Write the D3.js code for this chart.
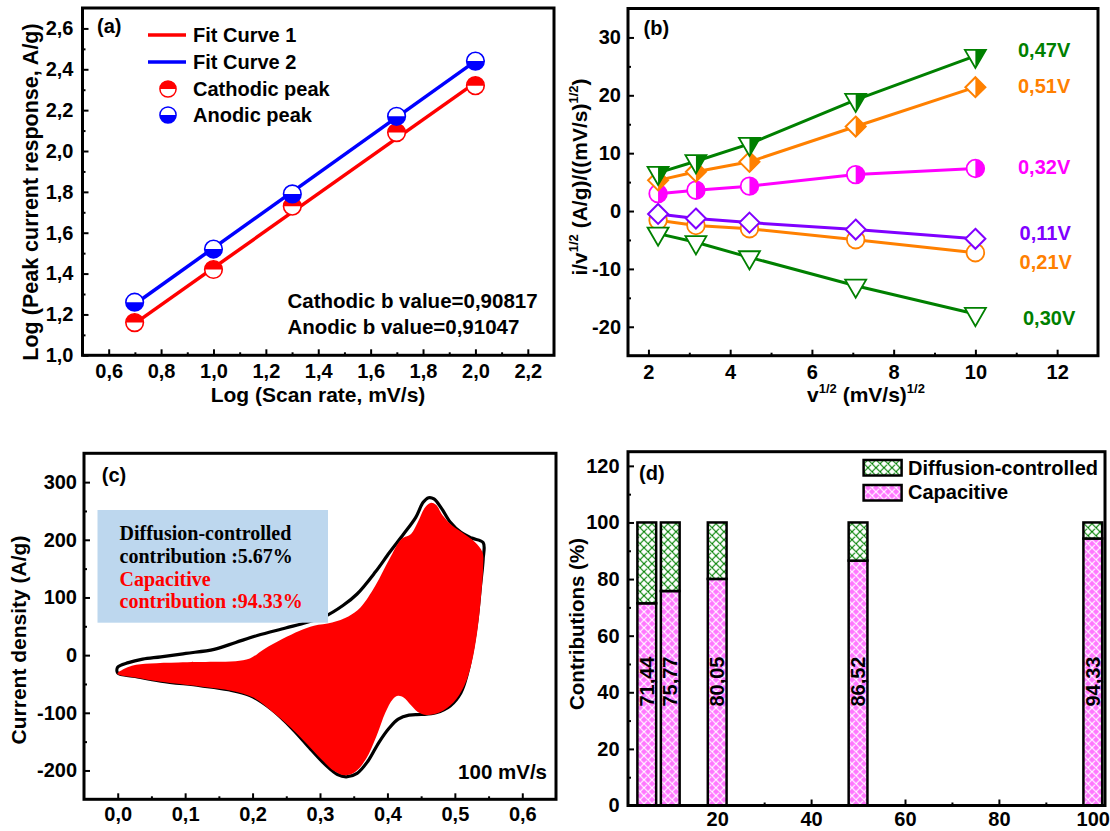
<!DOCTYPE html>
<html><head><meta charset="utf-8">
<script src="https://cdn.jsdelivr.net/npm/d3@7"></script>
<style>
body{margin:0;background:#fff;}
svg{display:block;}
text{font-family:"Liberation Sans",Arial,sans-serif;font-weight:bold;fill:#000;}
text.serif{font-family:"Liberation Serif","Times New Roman",serif;}
</style></head><body>
<svg id="chart" width="1110" height="831"></svg>
<script>
// ---------- Panel (a) data ----------
const aLogRate = [0.699, 1.0, 1.301, 1.699, 2.0];
const aCathodic = [1.16, 1.42, 1.73, 2.09, 2.32];
const aAnodic = [1.26, 1.52, 1.79, 2.17, 2.44];
const aFit1X = [0.699, 2.0], aFit1Y = [1.155, 2.335];
const aFit2X = [0.699, 2.0], aFit2Y = [1.25, 2.44];
const aXTicks = [0.6, 0.8, 1.0, 1.2, 1.4, 1.6, 1.8, 2.0, 2.2];
const aYTicks = [1.0, 1.2, 1.4, 1.6, 1.8, 2.0, 2.2, 2.4, 2.6];
const aLegend = ["Fit Curve 1", "Fit Curve 2", "Cathodic peak", "Anodic peak"];
const aNotes = ["Cathodic b value=0,90817", "Anodic b value=0,91047"];

// ---------- Panel (b) data ----------
const bSqrtRate = [2.236, 3.162, 4.472, 7.071, 10];
const bNames = ["0,47V", "0,51V", "0,32V", "0,11V", "0,21V", "0,30V"];
const bV047 = [6.6, 8.6, 11.6, 19.2, 26.8];
const bV051 = [5.3, 6.8, 8.5, 14.6, 21.4];
const bV032 = [3.0, 3.6, 4.3, 6.3, 7.35];
const bV011 = [-0.5, -1.3, -2.0, -3.2, -4.8];
const bV021 = [-1.6, -2.5, -3.05, -4.95, -7.2];
const bV030 = [-3.9, -5.4, -8.0, -12.9, -17.8];
const bXTicks = [2, 4, 6, 8, 10, 12];
const bYTicks = [-20, -10, 0, 10, 20, 30];

// ---------- Panel (c) data ----------
const cvOuterE = [0.000,0.016,0.037,0.064,0.101,0.143,0.175,0.207,0.249,0.281,0.307,0.334,0.355,0.382,0.403,0.424,0.442,0.453,0.461,0.469,0.480,0.493,0.509,0.525,0.542,0.542,0.538,0.533,0.527,0.519,0.509,0.493,0.472,0.450,0.432,0.416,0.403,0.387,0.371,0.355,0.339,0.326,0.307,0.286,0.260,0.228,0.196,0.164,0.122,0.064,0.026,0.000];
const cvOuterJ = [-21,-13,-7,-3,3,10,22,34,47,57,67,86,106,144,178,210,239,265,273,271,255,231,213,203,195,167,120,63,16,-30,-65,-88,-100,-103,-104,-111,-126,-152,-184,-205,-211,-207,-189,-163,-129,-94,-70,-60,-53,-45,-37,-31];
const cvCapE = [0,0.021,0.048,0.090,0.143,0.175,0.196,0.217,0.244,0.270,0.291,0.318,0.342,0.360,0.382,0.403,0.421,0.435,0.445,0.456,0.464,0.472,0.482,0.496,0.514,0.530,0.541,0.542,0.538,0.533,0.525,0.514,0.498,0.477,0.458,0.445,0.435,0.424,0.416,0.408,0.397,0.384,0.368,0.352,0.337,0.321,0.302,0.281,0.254,0.228,0.201,0.170,0.122,0.064,0.026,0];
const cvCapJ = [-31,-18.5,-14.5,-12.7,-11.6,-10.4,-5.8,10.4,27.8,42.3,51,56.7,67.2,82.8,120.4,166.8,201.5,210.2,230.5,256.5,264,260.6,242,224.7,210.2,195.7,178.3,155.2,91.5,39.4,-12.7,-53.3,-82.2,-99.6,-103.6,-98.4,-86.9,-73.5,-70.6,-76.4,-99.6,-140,-180.7,-202.7,-208.5,-201,-180.7,-154.6,-122.8,-96.7,-73.5,-62,-54.4,-46.3,-38.8,-33];
const cXTicks = [0.0, 0.1, 0.2, 0.3, 0.4, 0.5, 0.6];
const cYTicks = [-200, -100, 0, 100, 200, 300];
const cBoxLines = ["Diffusion-controlled", "contribution :5.67%", "Capacitive", "contribution :94.33%"];
const cRateLabel = "100 mV/s";

// ---------- Panel (d) data ----------
const dRate = [5, 10, 20, 50, 100];
const dCapacitive = [71.44, 75.77, 80.05, 86.52, 94.33];
const dDiffusion = [28.56, 24.23, 19.95, 13.48, 5.67];
const dLabels = ["71,44", "75,77", "80,05", "86,52", "94,33"];
const dXTicks = [20, 40, 60, 80, 100];
const dYTicks = [0, 20, 40, 60, 80, 100, 120];
const dLegend = ["Diffusion-controlled", "Capacitive"];

// ---------- helpers ----------
const svg = d3.select("#chart");
const comma = d => d3.format(".1f")(d).replace(".", ",");
const hyph = d => String(d);

function panel(L, T, R, B, xDom, yDom) {
  const g = svg.append("g").attr("transform", `translate(${L},${T})`);
  const w = R - L, h = B - T;
  const x = d3.scaleLinear().domain(xDom).range([0, w]);
  const y = d3.scaleLinear().domain(yDom).range([h, 0]);
  return {g, w, h, x, y};
}
function axes(p, xMaj, xMin, yMaj, yMin, xFmt, yFmt, xPad, yPad) {
  const {g, w, h, x, y} = p;
  const style = sel => {
    sel.select(".domain").remove();
    sel.selectAll("line").attr("stroke", "#000").attr("stroke-width", 2);
    sel.selectAll("text").attr("font-size", 20).attr("fill", "#000");
  };
  g.append("g").attr("transform", `translate(0,${h})`)
    .call(d3.axisBottom(x).tickValues(xMin).tickFormat("").tickSizeInner(-3).tickSizeOuter(0)).call(style);
  g.append("g").attr("transform", `translate(0,${h})`)
    .call(d3.axisBottom(x).tickValues(xMaj).tickFormat(xFmt).tickSizeInner(-6).tickSizeOuter(0).tickPadding(xPad)).call(style);
  g.append("g")
    .call(d3.axisLeft(y).tickValues(yMin).tickFormat("").tickSizeInner(-3).tickSizeOuter(0)).call(style);
  g.append("g")
    .call(d3.axisLeft(y).tickValues(yMaj).tickFormat(yFmt).tickSizeInner(-6).tickSizeOuter(0).tickPadding(yPad)).call(style);
}
function frame(p) {
  p.g.append("rect").attr("width", p.w).attr("height", p.h).attr("fill", "none").attr("stroke", "#000").attr("stroke-width", 3);
}
function txt(g, x, y, s, opt = {}) {
  const t = g.append("text").attr("x", x).attr("y", y).attr("font-size", opt.size || 20).text(s);
  if (opt.anchor) t.attr("text-anchor", opt.anchor);
  if (opt.fill) t.style("fill", opt.fill);
  return t;
}
const halfTop = r => `M${-r},0A${r},${r} 0 0 1 ${r},0Z`;
const halfBottom = r => `M${-r},0A${r},${r} 0 0 0 ${r},0Z`;
const halfRight = r => `M0,${-r}A${r},${r} 0 0 1 0,${r}Z`;
const triDown = s => { const hh = s * 0.866; return `M${-s/2},${-hh/3}L${s/2},${-hh/3}L0,${2*hh/3}Z`; };
const triDownRight = s => { const hh = s * 0.866; return `M0,${-hh/3}L${s/2},${-hh/3}L0,${2*hh/3}Z`; };
const diamond = d => `M0,${-d}L${d},0L0,${d}L${-d},0Z`;
const diamondRight = d => `M0,${-d}L${d},0L0,${d}Z`;

// ================= Panel (a) =================
{
  const p = panel(82.5, 8, 554, 355.3, [0.5, 2.3], [1.0, 2.7]);
  const {g, x, y} = p;
  axes(p, aXTicks, d3.range(0.7, 2.25, 0.2), aYTicks, d3.range(1.1, 2.7, 0.2), comma, comma, 9, 9);
  const line = d3.line().x(d => x(d[0])).y(d => y(d[1]));
  g.append("path").attr("d", line(d3.zip(aFit1X, aFit1Y))).attr("stroke", "#ff0000").attr("stroke-width", 3.5).attr("fill", "none");
  g.append("path").attr("d", line(d3.zip(aFit2X, aFit2Y))).attr("stroke", "#0000ff").attr("stroke-width", 3.5).attr("fill", "none");
  const r = 8.8;
  const drawMark = (gg, col, top) => {
    gg.append("circle").attr("r", r).attr("fill", "#fff").attr("stroke", col).attr("stroke-width", 1.6);
    gg.append("path").attr("d", top ? halfTop(r) : halfBottom(r)).attr("fill", col);
  };
  aLogRate.forEach((v, i) => drawMark(g.append("g").attr("transform", `translate(${x(v)},${y(aCathodic[i])})`), "#ff0000", true));
  aLogRate.forEach((v, i) => drawMark(g.append("g").attr("transform", `translate(${x(v)},${y(aAnodic[i])})`), "#0000ff", false));
  // legend
  const rows = [35, 62, 89, 115].map(v => v - 8);
  g.append("line").attr("x1", 148-82.5).attr("x2", 186-82.5).attr("y1", rows[0]).attr("y2", rows[0]).attr("stroke", "#ff0000").attr("stroke-width", 3.5);
  g.append("line").attr("x1", 148-82.5).attr("x2", 186-82.5).attr("y1", rows[1]).attr("y2", rows[1]).attr("stroke", "#0000ff").attr("stroke-width", 3.5);
  drawMark(g.append("g").attr("transform", `translate(${168-82.5},${rows[2]}) scale(0.92)`), "#ff0000", true);
  drawMark(g.append("g").attr("transform", `translate(${168-82.5},${rows[3]}) scale(0.92)`), "#0000ff", false);
  aLegend.forEach((s, i) => txt(g, 193-82.5, rows[i] + 7, s));
  txt(g, 97-82.5, 33-8, "(a)");
  aNotes.forEach((s, i) => txt(g, 287.5-82.5, [307.5, 334][i] - 8, s, {size: 20.5}));
  frame(p);
  svg.append("text").attr("x", 318).attr("y", 402).attr("text-anchor", "middle").attr("font-size", 21).text("Log (Scan rate, mV/s)");
  svg.append("text").attr("transform", "translate(38,192) rotate(-90)").attr("text-anchor", "middle").attr("font-size", 21.5).text("Log (Peak current response, A/g)");
}

// ================= Panel (b) =================
{
  const p = panel(628, 8.5, 1098, 355.7, [1.5, 13], [-25, 35]);
  const {g, x, y} = p;
  axes(p, bXTicks, [3, 5, 7, 9, 11], bYTicks, [-15, -5, 5, 15, 25], d => String(d), hyph, 9, 7);
  const series = [
    {v: bV021, col: "#ff8000", shape: "circle", half: false},
    {v: bV011, col: "#8000ff", shape: "diamond", half: false},
    {v: bV030, col: "#008000", shape: "tri", half: false},
    {v: bV032, col: "#ff00ff", shape: "circle", half: true},
    {v: bV051, col: "#ff8000", shape: "diamond", half: true},
    {v: bV047, col: "#008000", shape: "tri", half: true}
  ];
  const line = d3.line().x((d, i) => x(bSqrtRate[i])).y(d => y(d));
  series.forEach(s => {
    g.append("path").attr("d", line(s.v)).attr("fill", "none").attr("stroke", s.col).attr("stroke-width", 3);
  });
  series.forEach(s => {
    s.v.forEach((val, i) => {
      const m = g.append("g").attr("transform", `translate(${x(bSqrtRate[i])},${y(val)})`);
      if (s.shape === "circle") {
        m.append("circle").attr("r", 8.8).attr("fill", "#fff").attr("stroke", s.col).attr("stroke-width", 1.8);
        if (s.half) m.append("path").attr("d", halfRight(8.8)).attr("fill", s.col);
      } else if (s.shape === "diamond") {
        m.append("path").attr("d", diamond(10)).attr("fill", "#fff").attr("stroke", s.col).attr("stroke-width", 2).attr("stroke-linejoin", "miter");
        if (s.half) m.append("path").attr("d", diamondRight(10)).attr("fill", s.col);
      } else {
        m.append("path").attr("d", triDown(21)).attr("fill", "#fff").attr("stroke", s.col).attr("stroke-width", 1.8);
        if (s.half) m.append("path").attr("d", triDownRight(21)).attr("fill", s.col);
      }
    });
  });
  const labCols = ["#008000", "#ff8000", "#ff00ff", "#8000ff", "#ff8000", "#008000"];
  const labX = [1018, 1018, 1018, 1019.6, 1019.6, 1023];
  const labY = [50, 86, 166.7, 233.3, 261.7, 318.3];
  bNames.forEach((s, i) => txt(svg, labX[i], labY[i] + 7, s, {fill: labCols[i]}));
  txt(svg, 643.6, 35, "(b)");
  frame(p);
  const xt = svg.append("text").attr("x", 866).attr("y", 402).attr("text-anchor", "middle").attr("font-size", 21);
  xt.append("tspan").text("v");
  xt.append("tspan").attr("dy", -9).attr("font-size", 13).text("1/2");
  xt.append("tspan").attr("dy", 9).text(" (mV/s)");
  xt.append("tspan").attr("dy", -9).attr("font-size", 13).text("1/2");
  const yt = svg.append("text").attr("transform", "translate(587,177) rotate(-90)").attr("text-anchor", "middle").attr("font-size", 21);
  yt.append("tspan").text("i/v");
  yt.append("tspan").attr("dy", -9).attr("font-size", 13).text("1/2");
  yt.append("tspan").attr("dy", 9).text(" (A/g)/((mV/s)");
  yt.append("tspan").attr("dy", -9).attr("font-size", 13).text("1/2");
  yt.append("tspan").attr("dy", 9).text(")");
}

// ================= Panel (c) =================
{
  const p = panel(84, 453.3, 556, 799.3, [-0.05, 0.65], [-250, 350]);
  const {g, x, y} = p;
  axes(p, cXTicks, d3.range(0.05, 0.6, 0.1), cYTicks, [-150, -50, 50, 150, 250], comma, hyph, 8, 7);
  const area = d3.line().x(d => x(d[0])).y(d => y(d[1])).curve(d3.curveCatmullRomClosed.alpha(0.5));
  g.append("path").attr("d", area(d3.zip(cvOuterE, cvOuterJ))).attr("fill", "none").attr("stroke", "#000").attr("stroke-width", 3.2);
  g.append("path").attr("d", area(d3.zip(cvCapE, cvCapJ))).attr("fill", "#ff0000").attr("stroke", "none");
  g.append("rect").attr("x", 97.5-84).attr("y", 510-453.3).attr("width", 328-97.5).attr("height", 622.7-510).attr("fill", "#bdd7ee");
  const cols = ["#000", "#000", "#ff0000", "#ff0000"];
  const bl = [540, 563, 586, 608.5];
  cBoxLines.forEach((s, i) => txt(g, 119.5-84, bl[i]-453.3, s, {fill: cols[i]}).attr("class", "serif"));
  txt(g, 101.8-84, 482-453.3, "(c)");
  txt(g, 547-84, 779-453.3, cRateLabel, {anchor: "end", size: 20.5});
  frame(p);
  svg.append("text").attr("transform", "translate(25.5,640) rotate(-90)").attr("text-anchor", "middle").attr("font-size", 21).text("Current density (A/g)");
}

// ================= Panel (d) =================
{
  const p = panel(628, 451.7, 1105, 805.5, [1, 102.6], [0, 125]);
  const {g, x, y} = p;
  const defs = svg.append("defs");
  const mk = (id, bg, fg) => {
    const pt = defs.append("pattern").attr("id", id).attr("patternUnits", "userSpaceOnUse").attr("width", 8).attr("height", 8);
    pt.append("rect").attr("width", 8).attr("height", 8).attr("fill", bg);
    pt.append("path").attr("d", "M0,0L8,8M8,0L0,8M-1,7L1,9M7,-1L9,1M-1,1L1,-1M7,9L9,7").attr("stroke", fg).attr("stroke-width", 1.1);
  };
  mk("hatchCap", "#ff77ff", "#ffffff");
  mk("hatchDif", "#ffffff", "#008000");
  axes(p, dXTicks, [10, 30, 50, 70, 90], dYTicks, [10, 30, 50, 70, 90, 110], d => String(d), hyph, 6.5, 8.4);
  const bw = 2;
  dRate.forEach((r, i) => {
    g.append("rect").attr("x", x(r - bw)).attr("width", x(r + bw) - x(r - bw))
      .attr("y", y(dCapacitive[i])).attr("height", y(0) - y(dCapacitive[i]))
      .attr("fill", "url(#hatchCap)").attr("stroke", "#000").attr("stroke-width", 2.5);
    g.append("rect").attr("x", x(r - bw)).attr("width", x(r + bw) - x(r - bw))
      .attr("y", y(dCapacitive[i] + dDiffusion[i])).attr("height", y(dCapacitive[i]) - y(dCapacitive[i] + dDiffusion[i]))
      .attr("fill", "url(#hatchDif)").attr("stroke", "#000").attr("stroke-width", 2.5);
    g.append("text").attr("transform", `translate(${x(r)},${y(43.8)}) rotate(-90)`).attr("text-anchor", "middle").attr("dy", "0.36em").attr("font-size", 20).text(dLabels[i]);
  });
  // legend
  const lx = 863.6 - 628, lw = 38;
  [[460, "url(#hatchDif)"], [485, "url(#hatchCap)"]].forEach((d, i) => {
    g.append("rect").attr("x", lx).attr("y", d[0] - 451.7).attr("width", lw).attr("height", 15.5).attr("fill", d[1]).attr("stroke", "#000").attr("stroke-width", 2.5);
    txt(g, 908 - 628, [475, 499][i] - 451.7, dLegend[i]);
  });
  txt(g, 639 - 628, 480 - 451.7, "(d)");
  frame(p);
  svg.append("text").attr("transform", "translate(584,624) rotate(-90)").attr("text-anchor", "middle").attr("font-size", 20.5).text("Contributions (%)");
}
</script>
</body></html>
